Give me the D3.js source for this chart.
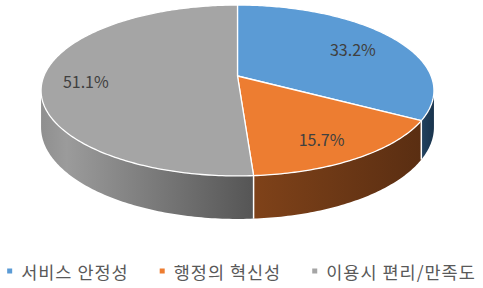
<!DOCTYPE html>
<html>
<head>
<meta charset="utf-8">
<script src="https://cdn.jsdelivr.net/npm/d3@7"></script>
<style>
  body { margin: 0; background: #fff; }
  text { font-family: "Noto Sans CJK KR", "Noto Sans", sans-serif; }
</style>
</head>
<body>
<div id="chart"></div>
<script>
var categories = ["서비스 안정성", "행정의 혁신성", "이용시 편리/만족도"]
var values = [33.2, 15.7, 51.1]
var labels = ["33.2%", "15.7%", "51.1%"]

var width = 483, height = 288
var topColors = ["#5b9bd5", "#ed7d31", "#a5a5a5"]
var sideColors = [["#22425f", "#19344d"], ["#7f4219", "#5a2e12"], ["#8f8f8f", "#555555"]]

// perspective ellipse: apex of the pie, radii, perspective strength, slab thickness
var cx = 237.5, cy = 76, rx = 193.6, ry = 83, persp = 0.1695, depth = 35.7

function project(a, r, h) {
  var x = Math.sin(a) * r, z = Math.cos(a) * r
  var w = 1 + persp * Math.cos(a)
  var wr = 1 + persp * z
  return [cx + rx * x / wr, cy - ry * z / wr + (h || 0) / w]
}

function arcPoints(a0, a1, h) {
  var n = Math.max(2, Math.ceil((a1 - a0) / 0.015))
  return d3.range(n + 1).map(function(i) { return project(a0 + (a1 - a0) * i / n, 1, h) })
}

var pie = d3.pie().sort(null).value(function(d) { return d })
var arcs = pie(values)

var svg = d3.select("#chart").append("svg")
    .attr("width", width)
    .attr("height", height)

var line = d3.line()
var defs = svg.append("defs")

// visible part of the side wall (where the rim turns toward the viewer)
var visStart = Math.acos(-persp), visEnd = 2 * Math.PI - visStart

var sides = svg.append("g")
arcs.forEach(function(d, i) {
  var s0 = Math.max(d.startAngle, visStart), s1 = Math.min(d.endAngle, visEnd)
  if (s1 <= s0) return
  var topPts = arcPoints(s0, s1, 0)
  var botPts = arcPoints(s0, s1, depth).reverse()
  var xs = topPts.map(function(p) { return p[0] })
  var g = defs.append("linearGradient")
      .attr("id", "side" + i)
      .attr("gradientUnits", "userSpaceOnUse")
      .attr("x1", d3.min(xs)).attr("x2", d3.max(xs))
      .attr("y1", 0).attr("y2", 0)
  g.append("stop").attr("offset", "0%").attr("stop-color", sideColors[i][0])
  if (i == 2) g.append("stop").attr("offset", "12%").attr("stop-color", "#9b9b9b")
  g.append("stop").attr("offset", "100%").attr("stop-color", sideColors[i][1])
  sides.append("path")
      .attr("d", line(topPts.concat(botPts)) + "Z")
      .style("fill", "url(#side" + i + ")")
})

// white seams between slices on the side wall
arcs.forEach(function(d) {
  var a = d.endAngle
  if (a <= visStart || a >= visEnd) return
  var p0 = project(a, 1, 0), p1 = project(a, 1, depth)
  sides.append("line")
      .attr("x1", p0[0]).attr("y1", p0[1])
      .attr("x2", p1[0]).attr("y2", p1[1])
      .style("stroke", "#fff")
      .style("stroke-width", 1.5)
})

var tops = svg.append("g")
arcs.forEach(function(d, i) {
  var pts = [project(0, 0)].concat(arcPoints(d.startAngle, d.endAngle, 0))
  tops.append("path")
      .attr("d", line(pts) + "Z")
      .style("fill", topColors[i])
      .style("stroke", "#fff")
      .style("stroke-width", 1.3)
      .style("stroke-linejoin", "round")
})

// data labels
arcs.forEach(function(d, i) {
  var mid = (d.startAngle + d.endAngle) / 2
  var p = project(mid, 0.76)
  svg.append("text")
      .attr("x", p[0] - 4)
      .attr("y", p[1] + 3)
      .attr("text-anchor", "middle")
      .attr("dominant-baseline", "central")
      .style("font-size", "16px")
      .style("fill", "#404040")
      .text(labels[i])
})

// legend
var legend = svg.append("g")
var items = categories.map(function(c, i) {
  var g = legend.append("g")
  g.append("rect")
      .attr("width", 5).attr("height", 5)
      .attr("y", -2.5)
      .style("fill", topColors[i])
  var t = g.append("text")
      .attr("x", 14)
      .attr("dominant-baseline", "central")
      .style("font-size", "17.5px")
      .style("letter-spacing", "1px")
      .style("fill", "#595959")
      .text(c)
  return { g: g, w: 14 + t.node().getComputedTextLength() }
})
var gap = 31
var total = d3.sum(items, function(d) { return d.w }) + gap * (items.length - 1)
var x = (width - total) / 2
items.forEach(function(d) {
  d.g.attr("transform", "translate(" + x + ",271)")
  x += d.w + gap
})
</script>
</body>
</html>
